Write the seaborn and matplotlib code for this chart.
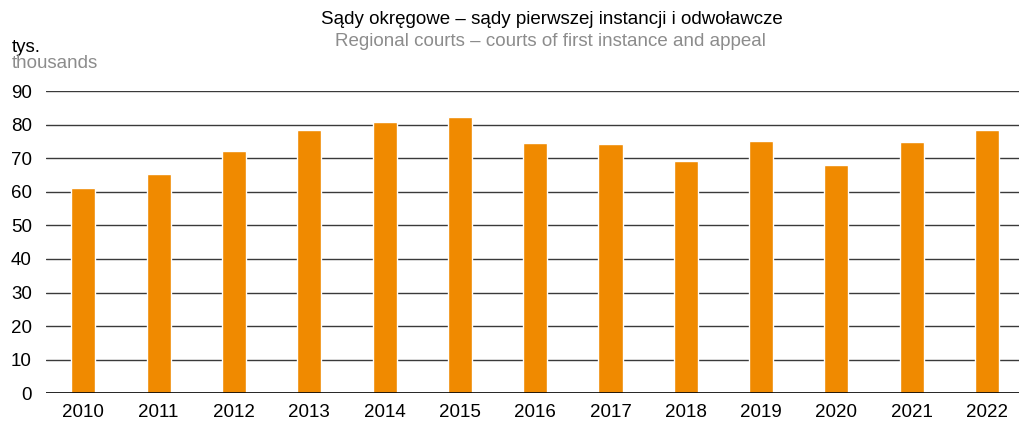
import matplotlib
matplotlib.use("Agg")
import matplotlib.pyplot as plt
import pandas as pd
import seaborn as sns

years = ["2010", "2011", "2012", "2013", "2014", "2015", "2016",
         "2017", "2018", "2019", "2020", "2021", "2022"]
values = [61.2, 65.2, 72.2, 78.5, 80.9, 82.3, 74.4,
          74.2, 69.2, 75.0, 68.1, 74.9, 78.5]
y_ticks = [0, 10, 20, 30, 40, 50, 60, 70, 80, 90]

df = pd.DataFrame({"year": years, "value": values})

sns.set_theme(style="white")
plt.rcParams["font.family"] = ["Liberation Sans", "DejaVu Sans"]

W, H = 1019, 426
fig = plt.figure(figsize=(W / 100, H / 100), dpi=100)
ax = fig.add_axes([45.7 / W, 1 - 393.3 / H, 979 / W, (393.3 - 91) / H])

for t in y_ticks[1:]:
    ax.axhline(t, color="#3a3a3a", lw=1.0, zorder=0)
ax.axhline(0, color="black", lw=1.2, zorder=3)

sns.barplot(data=df, x="year", y="value", color="#F08A00", width=0.32,
            saturation=1, ax=ax, zorder=2)

ax.set_xlim(-0.5, len(years) - 0.5)
ax.set_ylim(0, 90)
ax.set_yticks(y_ticks)
ax.set_xlabel("")
ax.set_ylabel("")
for s in ax.spines.values():
    s.set_visible(False)
ax.tick_params(axis="both", length=0, labelsize=13.5, colors="black")
ax.tick_params(axis="y", pad=10)
ax.tick_params(axis="x", pad=8)

fig.text(552 / W, 1 - 19 / H, "Sądy okręgowe – sądy pierwszej instancji i odwoławcze",
         ha="center", va="center", fontsize=13.5, color="black")
fig.text(550 / W, 1 - 41 / H, "Regional courts – courts of first instance and appeal",
         ha="center", va="center", fontsize=13.5, color="#8c8c8c")
fig.text(12 / W, 1 - 47 / H, "tys.", ha="left", va="center", fontsize=13.5, color="black")
fig.text(12 / W, 1 - 63 / H, "thousands", ha="left", va="center", fontsize=13.5, color="#8c8c8c")

fig.savefig("out.png", dpi=100, facecolor="white")
